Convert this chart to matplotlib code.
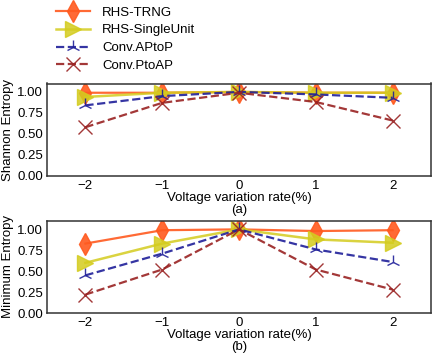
import matplotlib
matplotlib.use("Agg")
import matplotlib.pyplot as plt

x = [-2, -1, 0, 1, 2]
shannon_trng = [0.99, 0.99, 1.00, 0.99, 0.99]
shannon_single = [0.94, 0.99, 1.00, 0.99, 0.99]
shannon_aptop = [0.84, 0.95, 1.00, 0.97, 0.93]
shannon_ptoap = [0.58, 0.87, 0.99, 0.88, 0.66]

min_trng = [0.83, 0.99, 1.00, 0.98, 0.99]
min_single = [0.60, 0.83, 1.00, 0.88, 0.84]
min_aptop = [0.45, 0.71, 1.00, 0.76, 0.61]
min_ptoap = [0.22, 0.52, 1.00, 0.52, 0.28]

labels = ["RHS-TRNG", "RHS-SingleUnit", "Conv.APtoP", "Conv.PtoAP"]
yticks = [0.00, 0.25, 0.50, 0.75, 1.00]

plt.rcParams['font.family'] = ['Liberation Sans', 'DejaVu Sans']
fs = 9.5
fig = plt.figure(figsize=(4.36, 3.61), dpi=100)
ax1 = fig.add_axes([47/436, 1-176/361, 384/436, 92.5/361])
ax2 = fig.add_axes([47/436, 1-313/361, 384/436, 92/361])

styles = [
    dict(color='#ff5a1f', marker='d', linestyle='-', markersize=11, linewidth=1.6, alpha=0.9),
    dict(color='#d4cc1e', marker='>', linestyle='-', markersize=11, linewidth=1.8, alpha=0.85),
    dict(color='#1f1f99', marker='2', linestyle='--', markersize=10, linewidth=1.6, alpha=0.9),
    dict(color='#992222', marker='x', linestyle='--', markersize=10, linewidth=1.6, alpha=0.9),
]

for ax, series, sub in [(ax1, [shannon_trng, shannon_single, shannon_aptop, shannon_ptoap], "(a)"),
                        (ax2, [min_trng, min_single, min_aptop, min_ptoap], "(b)")]:
    for s, st, lab in zip(series, styles, labels):
        ax.plot(x, s, label=lab, **st)
    ax.set_xlim(-2.5, 2.5)
    ax.set_ylim(0, 1.1)
    ax.set_xticks(x)
    ax.set_yticks(yticks)
    ax.set_xticklabels(["\u22122", "\u22121", "0", "1", "2"])
    ax.tick_params(length=0, labelsize=fs, pad=3)
    ax.set_xlabel("Voltage variation rate(%)\n" + sub, fontsize=fs, labelpad=0, linespacing=0.95)
    for sp in ax.spines.values():
        sp.set_color('#333333')
        sp.set_linewidth(1.1)

ax1.set_ylabel("Shannon Entropy", fontsize=fs, labelpad=2)
ax2.set_ylabel("Minimum Entropy", fontsize=fs, labelpad=2)

h, l = ax1.get_legend_handles_labels()
fig.legend(h, l, loc='upper left', bbox_to_anchor=(44/436, 1.015), frameon=False,
           fontsize=fs, handlelength=2.6, labelspacing=0.42, handletextpad=0.9)

fig.savefig("out.png", dpi=100)
